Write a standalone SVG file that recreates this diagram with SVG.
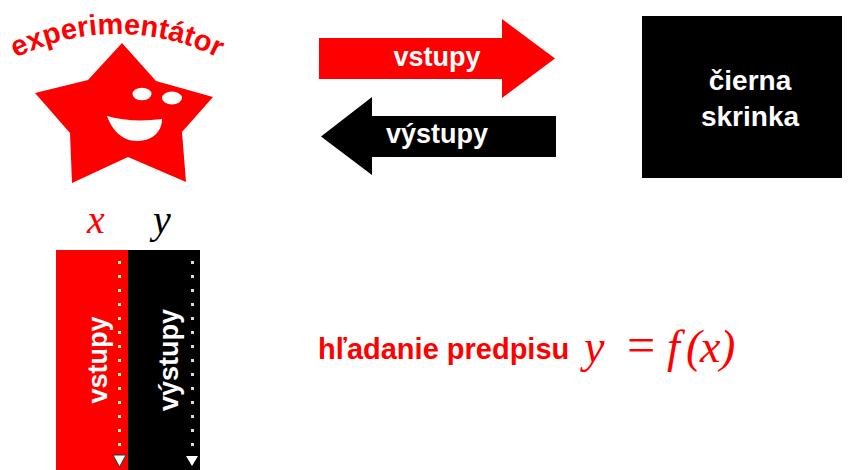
<svg xmlns="http://www.w3.org/2000/svg" width="848" height="470" viewBox="0 0 848 470">
  <style>
    .sans { font-family: "Liberation Sans", Arial, sans-serif; font-weight: bold; }
    .math { font-family: "Liberation Serif", "Times New Roman", serif; font-style: italic; }
    .white { fill: #ffffff; }
    .red { fill: #ff0000; }
    .dot-r { fill: #f4ecb8; }
    .dot-b { fill: #dcdcdc; }
  </style>
  <defs>
    <path id="arcLabel" d="M 0,66.8 A 225,225 0 0,1 234,66.8"/>
  </defs>
  <rect width="848" height="470" fill="#ffffff"/>

  <!-- experimenter: star with a face and curved caption -->
  <g id="experimentator">
    <text class="sans red" font-size="29"><textPath href="#arcLabel" startOffset="50%" text-anchor="middle">experimentátor</textPath></text>
    <polygon class="red" points="122,43 156,81 213,97 182,132 186,182 128,157 72,183 70,133 35,93 88,80"/>
    <ellipse class="white" cx="142" cy="94" rx="9.5" ry="6.3"/>
    <ellipse class="white" cx="172" cy="98" rx="10" ry="6.5"/>
    <path class="white" d="M107,116 Q132,123 162,119 C162,132 152,141 137,141 C122,141 112,130 107,116 Z"/>
  </g>

  <!-- black box -->
  <g id="cierna-skrinka">
    <rect x="642" y="16" width="200" height="162" fill="#000000"/>
    <text class="sans white" font-size="28" x="750" y="90" text-anchor="middle">čierna</text>
    <text class="sans white" font-size="28" x="750" y="126" text-anchor="middle">skrinka</text>
  </g>

  <!-- input / output arrows -->
  <g id="connectors">
    <g id="arrow-vstupy">
      <polygon fill="#ff0000" points="319,38 502,38 502,19 555,58.5 502,98 502,79 319,79"/>
      <text class="sans white" font-size="27" x="437" y="66" text-anchor="middle">vstupy</text>
    </g>
    <g id="arrow-vystupy">
      <polygon fill="#000000" points="556,116 372,116 372,97 321,136.5 372,175 372,157 556,157"/>
      <text class="sans white" font-size="27" x="437" y="143" text-anchor="middle">výstupy</text>
    </g>
  </g>

  <!-- x / y table columns -->
  <g id="stlpec-x">
    <text class="math" font-size="40" x="87" y="233" fill="#ff0000">x</text>
    <rect x="56" y="250" width="72" height="220" fill="#ff0000"/>
    <text class="sans white" font-size="27" transform="translate(107,360) rotate(-90)" text-anchor="middle">vstupy</text>
    <g class="dot-r">
      <rect x="118" y="261" width="3" height="3"/><rect x="118" y="275" width="3" height="3"/>
      <rect x="118" y="289" width="3" height="3"/><rect x="118" y="303" width="3" height="3"/>
      <rect x="118" y="317" width="3" height="3"/><rect x="118" y="331" width="3" height="3"/>
      <rect x="118" y="345" width="3" height="3"/><rect x="118" y="359" width="3" height="3"/>
      <rect x="118" y="373" width="3" height="3"/><rect x="118" y="387" width="3" height="3"/>
      <rect x="118" y="401" width="3" height="3"/><rect x="118" y="415" width="3" height="3"/>
      <rect x="118" y="429" width="3" height="3"/><rect x="118" y="443" width="3" height="3"/>
    </g>
    <polygon points="113,455 126,455 119.5,467" fill="#f4fff4" stroke="#333333" stroke-width="1"/>
  </g>

  <g id="stlpec-y">
    <text class="math" font-size="40" x="153" y="233" fill="#000000">y</text>
    <rect x="128" y="250" width="72" height="220" fill="#000000"/>
    <text class="sans white" font-size="27" transform="translate(178,360) rotate(-90)" text-anchor="middle">výstupy</text>
    <g class="dot-b">
      <rect x="191" y="261" width="3" height="3"/><rect x="191" y="275" width="3" height="3"/>
      <rect x="191" y="289" width="3" height="3"/><rect x="191" y="303" width="3" height="3"/>
      <rect x="191" y="317" width="3" height="3"/><rect x="191" y="331" width="3" height="3"/>
      <rect x="191" y="345" width="3" height="3"/><rect x="191" y="359" width="3" height="3"/>
      <rect x="191" y="373" width="3" height="3"/><rect x="191" y="387" width="3" height="3"/>
      <rect x="191" y="401" width="3" height="3"/><rect x="191" y="415" width="3" height="3"/>
      <rect x="191" y="429" width="3" height="3"/><rect x="191" y="443" width="3" height="3"/>
    </g>
    <polygon points="186,456 198,456 192,466" fill="#ffffff"/>
  </g>

  <!-- searching for the rule -->
  <g id="predpis">
    <text class="sans red" font-size="29" x="318" y="359">hľadanie predpisu</text>
    <g fill="#ff0000">
      <text class="math" font-size="46" x="584" y="362">y</text>
      <text font-family="Liberation Serif, serif" font-size="50" x="627" y="362">=</text>
      <text class="math" font-size="46" x="667" y="362">f</text>
      <text class="math" font-size="46" x="686" y="362">(</text>
      <text class="math" font-size="46" x="700" y="362">x</text>
      <text class="math" font-size="46" x="720" y="362">)</text>
    </g>
  </g>
</svg>
